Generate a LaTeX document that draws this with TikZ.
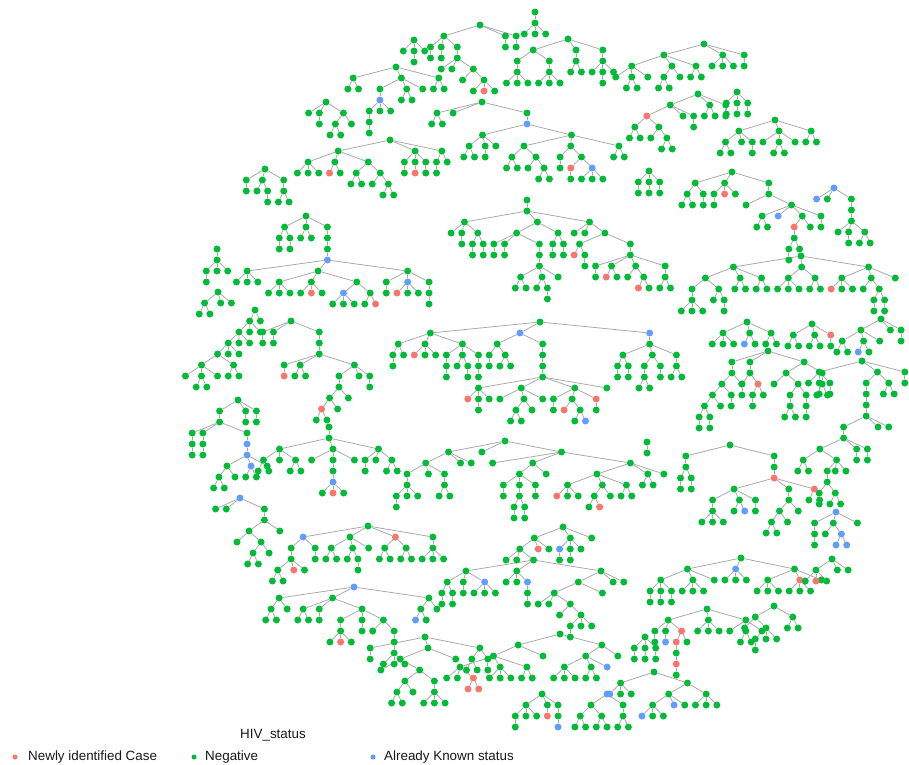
\documentclass[tikz,border=0pt]{standalone}
\usepackage{fontspec}
\setmainfont{Liberation Sans}
\pgfdeclarelayer{tbg}
\pgfsetlayers{tbg,main}
\definecolor{cR}{HTML}{F8766D}
\definecolor{cG}{HTML}{00BA38}
\definecolor{cB}{HTML}{619CFF}
\definecolor{cE}{HTML}{A6A6A6}
\tikzset{
  tg/.style={circle,fill=cG,inner sep=0pt,minimum size=7pt},
  tr/.style={tg,fill=cR},
  tb/.style={tg,fill=cB},
  tedge/.style={draw=cE,line width=0.75pt},
  ldot/.style={circle,inner sep=0pt,minimum size=5pt},
  ltext/.style={anchor=west,inner sep=0pt,font=\fontsize{13.4}{16}\selectfont,text=black!90}
}
% ---------- tiny tree layout engine ----------
\newcount\Tcnt
\newcount\Tdepth
\def\Tnil{\relax}
\def\Tlt{<}
\def\Tgt{>}
\def\Tlev{11}
\def\TSplit#1#2\Tstop{\def\Tcol{#1}\def\Trest{#2}}
\def\TKids#1{\ifx\relax#1\else\TChild{#1}\expandafter\TKids\fi}
\def\TChild#1{\TItem{#1}%
  \ifnum\Tretvalid=1\relax
    \ifx\Tfirst\empty\let\Tfirst\Tretx\fi
    \let\Tlast\Tretx
    \xdef\TEdges{\unexpanded\expandafter{\TEdges}\noexpand\draw[tedge] (\Tnm) -- (\Tretname);}%
  \fi}
\def\TItem#1{\begingroup
  \TSplit#1\relax\Tstop
  \ifx\Tcol\Tlt
    \pgfmathsetmacro\Tpos{\Tpos-0.5}\global\let\Tpos\Tpos\gdef\Tretvalid{0}%
  \else\ifx\Tcol\Tgt
    \pgfmathsetmacro\Tpos{\Tpos+0.5}\global\let\Tpos\Tpos\gdef\Tretvalid{0}%
  \else
    \TReal
  \fi\fi
  \endgroup}
\def\TReal{%
  \global\advance\Tcnt by 1
  \edef\Tnm{\Tname n\the\Tcnt}%
  \let\Tmycol\Tcol
  \advance\Tdepth by 1
  \ifx\Trest\Tnil
    \pgfmathsetmacro\Tx{\Tpos*\Tsp}%
    \pgfmathsetmacro\Tpos{\Tpos+1}\global\let\Tpos\Tpos
  \else
    \def\Tfirst{}\def\Tlast{}%
    \expandafter\TKids\Trest
    \pgfmathsetmacro\Tx{(\Tfirst+\Tlast)/2}%
  \fi
  \pgfmathsetmacro\Ty{(\Tdepth-1)*\Tlev}%
  \xdef\TNodes{\unexpanded\expandafter{\TNodes}\noexpand\node[t\Tmycol] (\Tnm) at (\Tx,\Ty) {};}%
  \xdef\Tretx{\Tx}\xdef\Tretname{\Tnm}\gdef\Tretvalid{1}%
}
\newcommand\DrawTree[5][10.7]{%
  \begingroup
  \def\Tsp{#1}\def\Tname{#2}%
  \gdef\Tpos{0}\gdef\TNodes{}\gdef\TEdges{}%
  \global\Tcnt=0 \Tdepth=0
  \edef\Tspec{#5}%
  \expandafter\TItem\expandafter{\Tspec}%
  \pgfmathsetmacro\Tdx{#3-\Tretx}%
  \begin{scope}[shift={(\Tdx,#4)}]
    \TNodes
    \begin{pgfonlayer}{tbg}\TEdges\end{pgfonlayer}
  \end{scope}
  \endgroup}
\newcommand\Qa{{g g}}
\newcommand\Qb{{g gg}}
\newcommand\Qc{{g ggg}}
\begin{document}
\begin{tikzpicture}[x=1pt,y=-1pt]
\begin{pgfonlayer}{tbg}
\fill[white] (0,0) rectangle (909,764);
\end{pgfonlayer}
\useasboundingbox (0,0) rectangle (909,764);
% ---------- top band ----------
\DrawTree{Ta}{535}{12}{g {g ggg}}
\DrawTree{Tb}{480}{25}{g {g >>> \Qa \Qa << {g {g g g {g g {g grg}}}}} \Qa \Qa}
\DrawTree{Tc}{414}{40}{g g \Qa g}
\DrawTree{Td}{568}{39}{g {g {g \Qc} {g \Qc}} {g \Qb} {g {g g \Qa g}}}
\DrawTree{Te}{704}{44}{g {g {g g \Qb g} {g \Qb g} \Qb} \Qc \Qa}
\DrawTree{Tf}{698}{94}{g {g {r \Qb {g g \Qb}} g \Qa} \Qb \Qa}
\DrawTree{Tg}{737}{92}{g \Qa \Qa \Qa}
\DrawTree{Th}{775}{120}{g {g \Qb g \Qa} {g g \Qb g} \Qb}
\DrawTree{Ti}{732}{172}{g {g \Qb \Qa} {g \Qa r g} {g {g g {g \Qb b {g {r {g \Qa g}} g} \Qa}}}}
\DrawTree{Tj}{834}{188}{b b g {g {g {g g \Qa \Qb}}}}
\DrawTree{Tk}{396}{67}{g \Qb {g {g {b {g \Qa} g g}} \Qb g} \Qb}
\DrawTree{Tl}{326}{102}{g g \Qa {g \Qb g}}
\DrawTree{Tm}{390}{140}{g {g \Qc {g rg} {g \Qb {g g \Qb}}} {g \Qa {g r} \Qa} {g \Qa g}}
\DrawTree{Tn}{265}{169}{g \Qa {g g \Qa} {g \Qb}}
\DrawTree{To}{482}{102}{g \Qb g {g {b {g \Qb \Qa g} {g {g \Qb {g g \Qb}} {g \Qa {g {r g} {b ggg}}} \Qb}}}}
\DrawTree{Tp}{649}{171}{g \Qa \Qa \Qa}
% ---------- middle band ----------
\DrawTree{Tq}{527}{200}{g {g {g g \Qa {g \Qa \Qa}} {g {g \Qa \Qa {g {g {g \Qb {g g \Qa} g}}}} <<< {g \Qa \Qa}} {g g g <<<< {g {g r \Qa} {g {g \Qa {g r g} {g g {g r g}} {g \Qb}}}}}}}
\DrawTree{Tr}{306}{216}{g >>>> {g \Qa \Qa} \Qb <<<<<<<<<<<<<<<< {g {g {g {b \Qc {g \Qc {g grg} {g {b ggg} {g gr}}} {g \Qa {b rgg} {g \Qa}}}}}}}
\DrawTree{Ts}{217}{249}{g {g \Qa g g}}
\DrawTree{Tt}{218}{292}{g \Qb g g}
\DrawTree{Tu}{255}{310}{g {g {g {g {g {g g \Qb g} \Qb} <<<< g g} << g g} << g g} << g}
\DrawTree{Tv}{291}{321}{g \Qa \Qa {g {g {g {g r} \Qb {g {g {g {g {r gg} g} g}} g \Qa}}}}}
\DrawTree{Tw}{801}{256}{g {g {g {g \Qc} {g g \Qa}} \Qb \Qb} {g \Qc \Qb} {g {g r gg} {g g {g \Qa \Qa}} g}}
\DrawTree{Tx}{747}{322}{g \Qc {g bg} \Qb}
\DrawTree{Ty}{812}{324}{g \Qb \Qb {r g}}
\DrawTree{Tz}{881}{319}{g {g \Qb {g bg} g} g \Qa}
\DrawTree{Ua}{768}{351}{g {g {g {g {g {g \Qa \Qa} g} \Qa} g}} << {g {g \Qa {r \Qa g}}} {g {g g {g {g \Qb} {g \Qa}}} {g \Qb}}}
\DrawTree{Ub}{862}{361}{g {g g \Qa \Qa} <<<<<<<< {g {g {g {g {g {g {g {g {g gg} {g {g {g \Qa \Qb}} <<< g g}} \Qa \Qa}} g g}}}} <<< \Qb} {g g}}
\DrawTree{Uc}{836}{512}{b {g \Qa} {g g {b bb}} g}
\DrawTree{Ud}{540}{322}{g {g {g \Qa g} {g rgg} {g {g \Qa} {g g \Qa} {g \Qa}}} {b {g \Qa \Qb} <<<<<<<<<< {g {g {g {g {g r \Qa g} {g g {g \Qb g} g} {g {g g} {g r {g gb}} {r g}} g}}}}} {b {g {g \Qa \Qa} {g {g \Qb} \Qa} {g \Qb}}}}
\DrawTree{Ue}{647}{442}{g g}
% ---------- lower left ----------
\DrawTree{Uf}{238}{400}{g {g {g {g \Qa} {g \Qa} {g {b {b {g {g gg} g} {b gg} g}}}}} <<<<<< \Qa \Qa}
\DrawTree{Ug}{240}{498}{b g g {g {g {g g {g {g gg} g}} g}}}
\DrawTree{Uh}{329}{427}{g {g {g \Qb g \Qb} {g g {g {g {b grg}}} g} {g \Qa g \Qb}}}
\DrawTree{Ui}{368}{526}{g {b {g {g \Qb r g}} \Qa} {g \Qb {g g \Qa} g} {r \Qb \Qb} {g {g ggg}}}
\DrawTree{Uj}{354}{587}{b {g \Qb g} {g \Qb \Qa {g {g {g g r g}} \Qa {g g {g {g \Qc}}}}} {g {g bg} g}}
\DrawTree{Uk}{425}{637}{g \Qa {g {g g {g {g \Qb g} {g {g ggg}}}} g} {g \Qb {g g}}}
% ---------- lower centre ----------
\DrawTree{Ul}{505}{441}{g {g {g {g {g {g g} g g}} g {g {g gg}}} g g} g {g g {g {g {g g} {g {g \Qa \Qa}} {g g}} g} {g {g {g rgg} {g {g g r} g} {g gg}} {g gg} g}}}
\DrawTree{Um}{563}{527}{g {g {g >>>>>>>>>>>> g g <<<<<<<<<<<<<<<< {g {g {g \Qa \Qa} \Qa {b ggg}} {g g g {b \Qa}} {g {g {g g g {g g {g \Qa g g}}} g} g g}}} <<<<<<<<<<<<<<<<<< r g} {g {b g} {g g} g} g}
\DrawTree{Un}{560}{634}{g {g {g {g g g {r rr}} {g ggg} {g gg}} g} {g {g {g ggg} {g gg} b} g}}
\DrawTree{Uo}{542}{694}{g {g \Qa g g} {g r} {g {g b}}}
\DrawTree{Up}{607}{694}{b {g \Qb \Qb} {g \Qb}}
% ---------- lower right ----------
\DrawTree{Uq}{730}{445}{g {g {g \Qa \Qa}} {g {g {r {g {g \Qc} {g g b} {g g}} {g {g {g \Qb g} g}} {r gg}}}}}
\DrawTree{Ur}{741}{558}{g {g {g \Qa \Qa \Qa} {g ggg} g} {b ggg} {g {g ggg} {r ggg} g}}
\DrawTree{Us}{832}{559}{g {g grg} g g}
\DrawTree{Ut}{707}{609}{g {g \Qa {g b} {r {r {g {r g}}} g}} {g ggg} {g g \Qb g}}
\DrawTree{Uu}{774}{606}{g {g g {g \Qa g g}} {g gg}}
\DrawTree{Uv}{645}{637}{g \Qa \Qa \Qa}
\DrawTree{Uw}{654}{672}{g {g bgg} {g {g {g bgg} b g} {g ggg}}}
% ---------- legend ----------
\node[ltext,anchor=center] (title) at (273,735) {HIV\_status};
\node[ldot,fill=cR] (k1) at (15,757) {};
\node[ltext] (k1t) at (28,757) {Newly identified Case};
\node[ldot,fill=cG] (k2) at (194,757) {};
\node[ltext] (k2t) at (205,757) {Negative};
\node[ldot,fill=cB] (k3) at (373,757) {};
\node[ltext] (k3t) at (384,757) {Already Known status};
\end{tikzpicture}
\end{document}
